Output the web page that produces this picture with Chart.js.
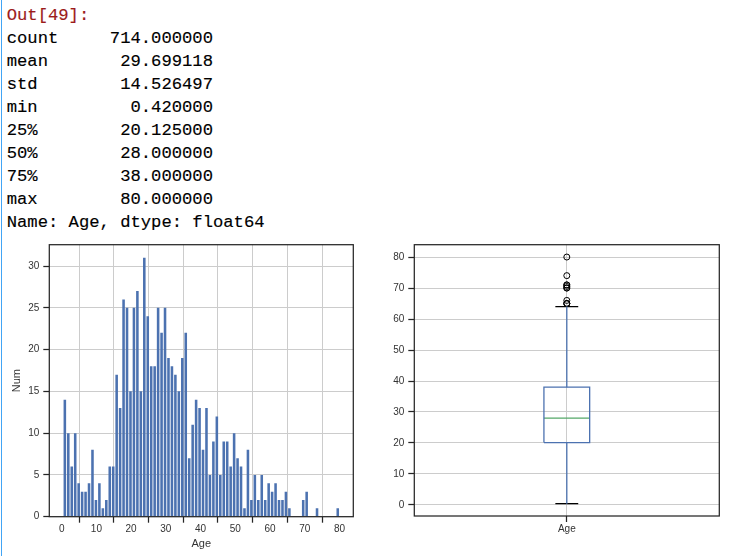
<!DOCTYPE html>
<html><head><meta charset="utf-8">
<script src="https://cdn.jsdelivr.net/npm/chart.js@4.4.1/dist/chart.umd.min.js"></script>
<style>
html,body{margin:0;padding:0;background:#fff;width:746px;height:556px;overflow:hidden;position:relative}
#edge{position:absolute;left:1px;top:0;width:1px;height:556px;background:#42A5F5}
#out{position:absolute;left:6.7px;top:3.9px;font-family:"Liberation Mono",monospace;font-size:17.2px;line-height:23px;white-space:pre;color:#000;margin:0;-webkit-text-stroke:0.15px #000}
#out .prompt{color:#9c1b1b;-webkit-text-stroke:0.15px #9c1b1b}
#w1{position:absolute;left:0;top:230px;width:370px;height:326px}
#w2{position:absolute;left:370px;top:230px;width:376px;height:326px}
</style></head>
<body>
<div id="edge"></div>
<pre id="out"></pre>
<div id="w1"><canvas id="hist" width="370" height="326"></canvas></div>
<div id="w2"><canvas id="box" width="376" height="326"></canvas></div>
<script>
// ---- data ----
const outPrompt = 'Out[49]:';
const statNames = ['count', 'mean', 'std', 'min', '25%', '50%', '75%', 'max'];
const statValues = ['714.000000', '29.699118', '14.526497', '0.420000', '20.125000', '28.000000', '38.000000', '80.000000'];
const statFooter = 'Name: Age, dtype: float64';

const ageMin = 0.42;
const ageMax = 80;
const ageBinCounts = [14,10,6,10,4,3,3,4,8,2,4,1,2,6,6,
  17,13,26,25,15,25,27,15,31,24,18,18,25,22,25,19,18,17,15,19,22,7,11,
  14,13,8,13,5,9,12,5,9,9,6,10,7,6,1,8,2,5,2,5,2,4,3,4,2,2,3,1,
  0,0,0,2,3,0,0,1,0,0,0,0,0,1];
const histXTicks = [0, 10, 20, 30, 40, 50, 60, 70, 80];
const histYTicks = [0, 5, 10, 15, 20, 25, 30];
const histXLabel = 'Age';
const histYLabel = 'Num';

const boxCategories = ['Age'];
const boxWhiskerLow = [0.42];
const boxQ1 = [20.125];
const boxMedian = [28];
const boxQ3 = [38];
const boxWhiskerHigh = [64];
const boxOutliers = [65, 65, 65, 66, 70, 70, 70.5, 71, 71, 74, 80];
const boxYTicks = [0, 10, 20, 30, 40, 50, 60, 70, 80];

// ---- text output ----
const outEl = document.getElementById('out');
const pr = document.createElement('span'); pr.className = 'prompt'; pr.textContent = outPrompt;
outEl.appendChild(pr);
let body = '\n';
statNames.forEach((n, i) => { body += n + statValues[i].padStart(20 - n.length) + '\n'; });
body += statFooter;
outEl.appendChild(document.createTextNode(body));

// ---- shared style ----
const EDGE = '#262626', GRID = '#cccccc', TICKTXT = '#333333', BLUE = '#4c72b0', GREEN = '#55a868';
const tickFont = {family: '"Liberation Sans", Arial, sans-serif', size: 10};
const labelFont = {family: '"Liberation Sans", Arial, sans-serif', size: 11};
const framePlugin = {
  id: 'frame',
  afterDatasetsDraw(chart) {
    const {ctx, chartArea: a} = chart;
    ctx.save(); ctx.strokeStyle = EDGE; ctx.lineWidth = 1.25;
    ctx.strokeRect(a.left, a.top, a.right - a.left, a.bottom - a.top);
    ctx.restore();
  }
};
function pad5(lo, hi) { const s = hi - lo; return [lo - 0.05 * s, hi + 0.05 * s]; }

// ---- histogram ----
const binW = (ageMax - ageMin) / ageBinCounts.length;
const histData = ageBinCounts.map((c, i) => ({x: ageMin + (i + 0.5) * binW, y: c}));
const [hxMin, hxMax] = pad5(ageMin, ageMax);
const hyMax = Math.max(...ageBinCounts) * 1.05;

new Chart(document.getElementById('hist'), {
  type: 'bar',
  data: {datasets: [{data: histData, backgroundColor: BLUE, borderWidth: 0,
    barPercentage: 0.74, categoryPercentage: 1}]},
  options: {
    responsive: false, animation: false, devicePixelRatio: 1,
    layout: {padding: {left: 0, top: 14.7, right: 16.7, bottom: 0}},
    plugins: {legend: {display: false}, tooltip: {enabled: false}},
    scales: {
      x: {type: 'linear', min: hxMin, max: hxMax, offset: false,
        afterBuildTicks: s => { s.ticks = histXTicks.map(v => ({value: v})); },
        afterFit: s => { s.height = 39.3; },
        grid: {color: GRID, lineWidth: 1, tickColor: EDGE, tickLength: 6, tickWidth: 1.25},
        border: {display: false},
        ticks: {font: tickFont, color: TICKTXT, padding: 1, maxRotation: 0},
        title: {display: true, text: histXLabel, font: labelFont, color: TICKTXT, padding: {top: 0, bottom: 5.4}}
      },
      y: {type: 'linear', min: 0, max: hyMax,
        afterBuildTicks: s => { s.ticks = histYTicks.map(v => ({value: v})); },
        afterFit: s => { s.width = 49.3; },
        grid: {color: GRID, lineWidth: 1, tickColor: EDGE, tickLength: 6, tickWidth: 1.25},
        border: {display: false},
        ticks: {font: tickFont, color: TICKTXT, padding: 4},
        title: {display: true, text: histYLabel, font: labelFont, color: TICKTXT, padding: {top: 10.5, bottom: 0}}
      }
    }
  },
  plugins: [framePlugin]
});

// ---- box plot ----
const boxPos = 1, boxW = 0.15, capW = boxW / 2;
const [byMin, byMax] = pad5(boxWhiskerLow[0], Math.max(...boxOutliers));
const line = (pts, color, w) => ({data: pts, showLine: true, borderColor: color, borderWidth: w,
  pointRadius: 0, tension: 0, fill: false});
const boxRect = [
  {x: boxPos - boxW / 2, y: boxQ1[0]}, {x: boxPos + boxW / 2, y: boxQ1[0]},
  {x: boxPos + boxW / 2, y: boxQ3[0]}, {x: boxPos - boxW / 2, y: boxQ3[0]},
  {x: boxPos - boxW / 2, y: boxQ1[0]}];

new Chart(document.getElementById('box'), {
  type: 'scatter',
  data: {datasets: [
    line([{x: boxPos, y: boxQ3[0]}, {x: boxPos, y: boxWhiskerHigh[0]}], BLUE, 1.3),
    line([{x: boxPos, y: boxWhiskerLow[0]}, {x: boxPos, y: boxQ1[0]}], BLUE, 1.3),
    line(boxRect, BLUE, 1.3),
    line([{x: boxPos - boxW / 2, y: boxMedian[0]}, {x: boxPos + boxW / 2, y: boxMedian[0]}], GREEN, 1.3),
    line([{x: boxPos - capW / 2, y: boxWhiskerHigh[0]}, {x: boxPos + capW / 2, y: boxWhiskerHigh[0]}], '#000', 1.3),
    line([{x: boxPos - capW / 2, y: boxWhiskerLow[0]}, {x: boxPos + capW / 2, y: boxWhiskerLow[0]}], '#000', 1.3),
    {data: boxOutliers.map(v => ({x: boxPos, y: v})), showLine: false, pointRadius: 3,
      pointBorderWidth: 1, pointBorderColor: '#000', pointBackgroundColor: 'rgba(0,0,0,0)'}
  ]},
  options: {
    responsive: false, animation: false, devicePixelRatio: 1,
    layout: {padding: {left: 0, top: 14.7, right: 26.7, bottom: 0}},
    plugins: {legend: {display: false}, tooltip: {enabled: false}},
    scales: {
      x: {type: 'linear', min: 0.5, max: 1.5,
        afterBuildTicks: s => { s.ticks = boxCategories.map((c, i) => ({value: i + 1})); },
        afterFit: s => { s.height = 40; },
        grid: {color: GRID, lineWidth: 1, tickColor: EDGE, tickLength: 6, tickWidth: 1.25},
        border: {display: false},
        ticks: {font: tickFont, color: TICKTXT, padding: 1, maxRotation: 0,
          callback: v => boxCategories[v - 1]}
      },
      y: {type: 'linear', min: byMin, max: byMax,
        afterBuildTicks: s => { s.ticks = boxYTicks.map(v => ({value: v})); },
        afterFit: s => { s.width = 44.3; },
        grid: {color: GRID, lineWidth: 1, tickColor: EDGE, tickLength: 6, tickWidth: 1.25},
        border: {display: false},
        ticks: {font: tickFont, color: TICKTXT, padding: 4}
      }
    }
  },
  plugins: [framePlugin]
});
</script>
</body></html>
